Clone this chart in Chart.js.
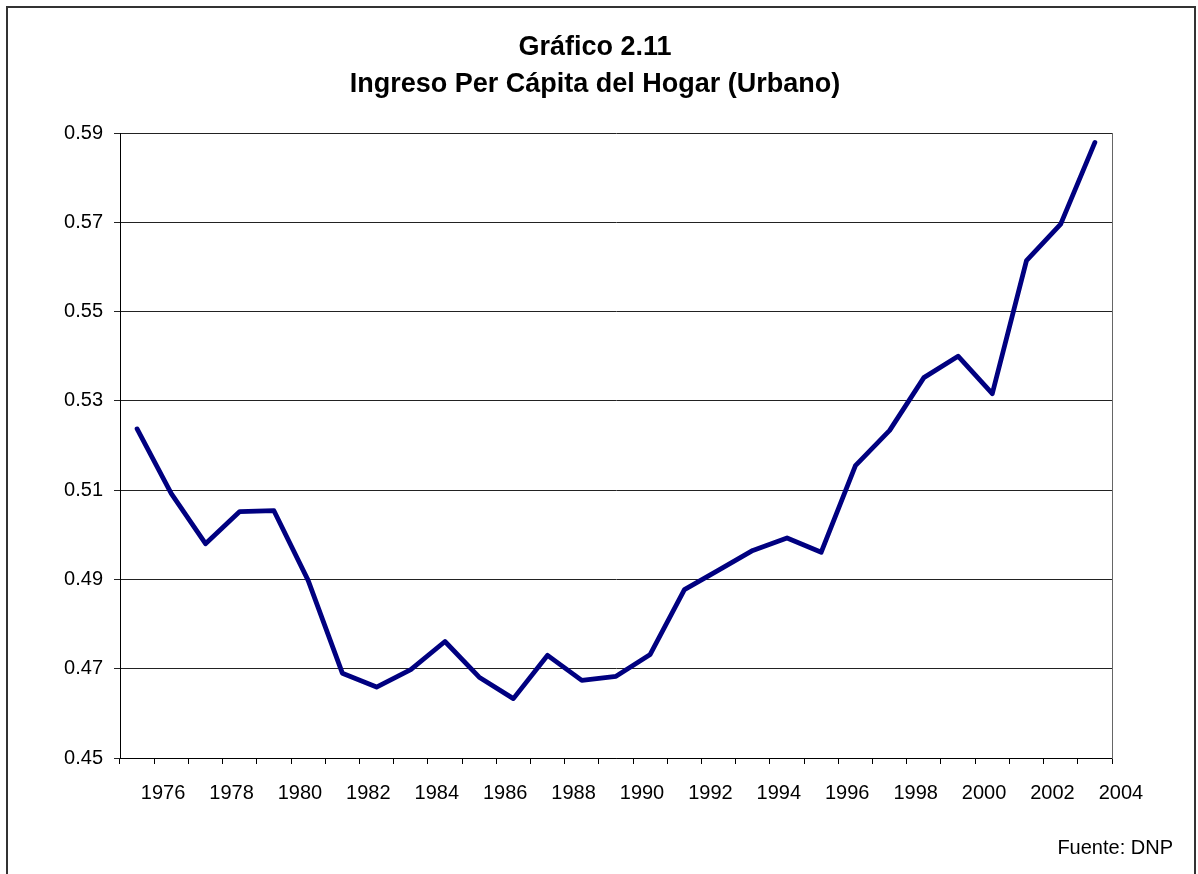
<!DOCTYPE html>
<html>
<head>
<meta charset="utf-8">
<script src="https://cdn.jsdelivr.net/npm/chart.js@4/dist/chart.umd.min.js"></script>
<style>
  body { margin: 0; background: #fff; }
  #wrap { position: relative; width: 1198px; height: 874px; overflow: hidden; }
  #frame { position: absolute; left: 6px; top: 6px; width: 1186px; height: 900px; border: 2px solid #333; }
  #chart { position: absolute; left: 0; top: 0; }
  #source { position: absolute; right: 25px; top: 836px; font: 20px "Liberation Sans", Arial, sans-serif; color: #000; }
</style>
</head>
<body>
<div id="wrap">
  <div id="frame"></div>
  <canvas id="chart" width="1198" height="874"></canvas>
  <div id="source">Fuente: DNP</div>
</div>
<script>
const years = [1976, 1977, 1978, 1979, 1980, 1981, 1982, 1983, 1984, 1985,
  1986, 1987, 1988, 1989, 1990, 1991, 1992, 1993, 1994, 1995,
  1996, 1997, 1998, 1999, 2000, 2001, 2002, 2003, 2004];
const ingreso = [0.5237, 0.5092, 0.4980, 0.5052, 0.5054, 0.4898, 0.4690, 0.4659, 0.4698, 0.4761,
  0.4681, 0.4633, 0.4730, 0.4674, 0.4683, 0.4732, 0.4877, 0.4921, 0.4965, 0.4993,
  0.4961, 0.5155, 0.5234, 0.5352, 0.5400, 0.5316, 0.5614, 0.5696, 0.5879];
const titleLines = ["Gráfico 2.11", "Ingreso Per Cápita del Hogar (Urbano)"];

const FONT = "'Liberation Sans', Arial, sans-serif";

const ctx = document.getElementById("chart").getContext("2d");
new Chart(ctx, {
  type: "line",
  data: {
    labels: years,
    datasets: [{
      label: "Ingreso",
      data: ingreso,
      borderColor: "#000080",
      borderWidth: 4.8,
      pointRadius: 0,
      tension: 0,
      fill: false,
      borderCapStyle: "round",
      borderJoinStyle: "round"
    }]
  },
  options: {
    responsive: false,
    animation: false,
    devicePixelRatio: 1,
    layout: { padding: { left: 64, right: 72, top: 0, bottom: 52 } },
    plugins: {
      legend: { display: false },
      tooltip: { enabled: false },
      title: {
        display: true,
        text: titleLines,
        color: "#000",
        font: { family: FONT, size: 27, weight: "bold", lineHeight: 1.38 },
        padding: { top: 29, bottom: 29.5 }
      }
    },
    scales: {
      x: {
        offset: true,
        grid: { display: true, drawOnChartArea: false, offset: true, tickLength: 6, color: "#000" },
        border: { color: "#000", width: 1 },
        ticks: {
          autoSkip: false,
          maxRotation: 0,
          minRotation: 0,
          labelOffset: 26,
          padding: 17,
          color: "#000",
          font: { family: FONT, size: 20 },
          callback: (v, i) => (i % 2 === 0 ? years[i] : "")
        }
      },
      y: {
        min: 0.45,
        max: 0.59,
        afterFit: (scale) => { scale.width = 56; },
        grid: { color: "#222", tickLength: 6 },
        border: { color: "#000", width: 1 },
        ticks: {
          stepSize: 0.02,
          padding: 11,
          color: "#000",
          font: { family: FONT, size: 20 },
          callback: (v) => v.toFixed(2)
        }
      },
      // empty right axis: draws the grey right edge of the plot area
      yRight: {
        position: "right",
        min: 0.45,
        max: 0.59,
        afterFit: (scale) => { scale.width = 14; },
        grid: { display: false },
        border: { display: true, color: "#666", width: 1 },
        ticks: { display: false }
      }
    }
  }
});
</script>
</body>
</html>
